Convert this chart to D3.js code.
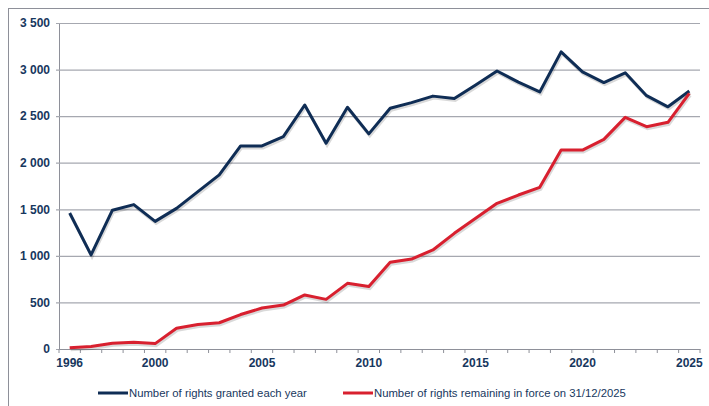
<!DOCTYPE html>
<html>
<head>
<meta charset="utf-8">
<script src="https://cdn.jsdelivr.net/npm/d3@7"></script>
<style>
  body { margin: 0; background: #fff; }
  svg { display: block; font-family: "Liberation Sans", Arial, sans-serif; }
  .tick text { fill: #17375e; font-weight: bold; font-size: 12px; }
</style>
</head>
<body>
<svg width="709" height="406"></svg>
<script>
// years on the x axis
var years = d3.range(1996, 2026);
var yearLabels = [1996, 2000, 2005, 2010, 2015, 2020, 2025];
var yTicks = [0, 500, 1000, 1500, 2000, 2500, 3000, 3500];

// granted each year
var granted = [1460, 1010, 1490, 1550, 1370, 1510, 1690, 1870, 2180, 2180,
  2280, 2620, 2210, 2595, 2310, 2585, 2645, 2715, 2690, 2835,
  2985, 2865, 2760, 3190, 2975, 2860, 2965, 2720, 2600, 2770];

// remaining in force on 31/12/2025
var inForce = [14, 28, 62, 72, 58, 222, 262, 282, 370, 440,
  472, 580, 533, 705, 670, 931, 966, 1063, 1242, 1403,
  1564, 1653, 1736, 2136, 2136, 2251, 2487, 2387, 2434, 2745];

var series = [
  {name: "Number of rights granted each year", values: granted, color: "#0f2d55"},
  {name: "Number of rights remaining in force on 31/12/2025", values: inForce, color: "#d8202f"}
];

var svg = d3.select("svg");
var margin = {left: 59, right: 9, top: 23, bottom: 57};
var width = 709 - margin.left - margin.right;
var height = 406 - margin.top - margin.bottom;

// outer frame
svg.append("rect")
  .attr("x", 8.5).attr("y", 8.5)
  .attr("width", 720).attr("height", 420)
  .attr("fill", "none").attr("stroke", "#8e9099").attr("stroke-width", 1);

var g = svg.append("g").attr("transform", "translate(" + margin.left + "," + margin.top + ")");

var x = d3.scaleBand().domain(years).range([0, width]).padding(0);
var y = d3.scaleLinear().domain([0, 3500]).range([height, 0]);

// gridlines + y axis
var yAxis = g.append("g")
  .call(d3.axisLeft(y).tickValues(yTicks).tickSize(-width).tickSizeOuter(0)
    .tickFormat(function(d) { return d3.format(",")(d).replace(",", " "); }));
yAxis.select(".domain").attr("stroke", "#8e9099");
yAxis.selectAll(".tick line").attr("stroke", "#a6a8b0").attr("stroke-width", 1.2).attr("x1", -3);
yAxis.selectAll(".tick text").attr("x", -9);

// x axis: labels centred on the categories
var xAxis = g.append("g")
  .attr("transform", "translate(0," + height + ")")
  .call(d3.axisBottom(x).tickValues(yearLabels).tickSize(0).tickPadding(9));
xAxis.select(".domain").attr("stroke", "#8e9099").attr("stroke-width", 1.2);

// tick marks sit between categories
var bounds = years.map(function(d) { return x(d); }).concat([width]);
xAxis.selectAll(".bound")
  .data(bounds)
  .enter().append("line")
  .attr("class", "bound")
  .attr("x1", function(d) { return d; }).attr("x2", function(d) { return d; })
  .attr("y1", 0).attr("y2", 4)
  .attr("stroke", "#8e9099");

var line = d3.line()
  .x(function(d, i) { return x(years[i]) + x.bandwidth() / 2; })
  .y(function(d) { return y(d); });

series.forEach(function(s) {
  // soft shadow like the original
  g.append("path")
    .datum(s.values)
    .attr("fill", "none")
    .attr("stroke", "rgba(0,0,0,0.15)")
    .attr("stroke-width", 3)
    .attr("transform", "translate(1,2)")
    .attr("d", line);
  g.append("path")
    .datum(s.values)
    .attr("fill", "none")
    .attr("stroke", s.color)
    .attr("stroke-width", 3)
    .attr("stroke-linejoin", "round")
    .attr("d", line);
});

// legend
var legendX = [98, 343];
var legend = svg.selectAll(".legend")
  .data(series)
  .enter().append("g")
  .attr("class", "legend")
  .attr("transform", function(d, i) { return "translate(" + legendX[i] + ",393)"; });

legend.append("line")
  .attr("x1", 0).attr("x2", 30)
  .attr("stroke", function(d) { return d.color; })
  .attr("stroke-width", 3);

legend.append("text")
  .attr("x", 31).attr("dy", "0.35em")
  .attr("fill", "#17375e")
  .attr("font-size", "11.3px")
  .text(function(d) { return d.name; });
</script>
</body>
</html>
